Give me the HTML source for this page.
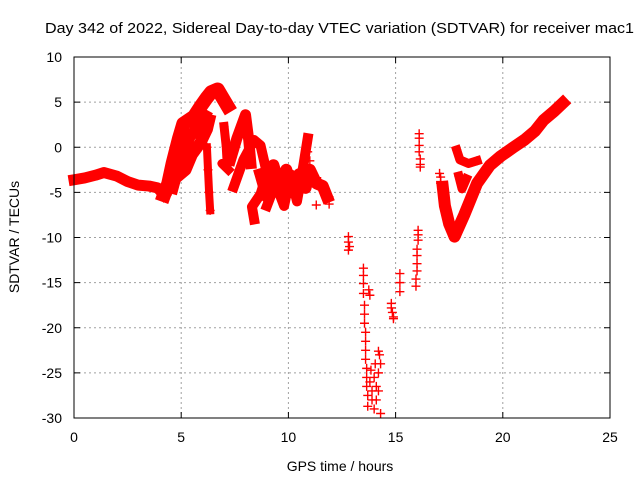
<!DOCTYPE html>
<html><head><meta charset="utf-8"><style>
body{margin:0;background:#fff}
svg{display:block;font-family:"Liberation Sans",sans-serif}
</style></head><body>
<svg id="c" width="640" height="480">
<text x="45" y="33" font-size="15" textLength="589" lengthAdjust="spacingAndGlyphs">Day 342 of 2022, Sidereal Day-to-day VTEC variation (SDTVAR) for receiver mac1</text>
<text x="340" y="471" font-size="14" text-anchor="middle">GPS time / hours</text>
<text transform="translate(19,237) rotate(-90)" font-size="14" text-anchor="middle">SDTVAR / TECUs</text>
<g id="grid"></g><g id="marks"></g>
<rect x="74" y="57" width="536" height="361" fill="none" stroke="#000" stroke-width="1"/>
<g id="ticks"></g>
</svg>
<script>
const xTicks=[0,5,10,15,20,25];
const yTicks=[10,5,0,-5,-10,-15,-20,-25,-30];
// continuous bands: [hour, value]
const bandBase=[[0,-3.6],[0.5,-3.4],[1,-3.1],[1.4,-2.8],[2,-3.2],[2.5,-3.8],[3,-4.2],[3.5,-4.3],[3.9,-4.5],[4.2,-5.3]];
const bandRise=[[4.2,-5.3],[4.4,-4],[4.6,-1.8],[4.9,1],[5.1,2.6],[5.6,3.4],[5.9,4.5],[6.2,5.5],[6.4,6.1],[6.7,6.4],[7.0,5.2],[7.15,4.6]];
const bandRise2=[[4.3,-5],[4.7,-3.5],[5.2,-2.5],[5.5,-0.8],[5.9,0.5],[6.2,2],[6.3,3]];
const bandRise3=[[4.6,-4.5],[5.0,-1],[5.4,1.2],[5.8,2.2],[6.1,3.5]];
const bandDrop=[[6.2,0],[6.25,-2.5],[6.3,-5],[6.35,-7]];
const bandDrop2=[[7.0,2.3],[7.1,0.1],[7.15,-2],[6.9,-1.8],[7.2,-2.5]];
const bandHump=[[7.3,-1.4],[7.6,1],[8.0,3.6],[8.15,0.8],[8.25,-1.8]];
const bandLoop=[[7.45,-4.4],[7.9,-1.4],[8.4,0.8],[8.7,0.2],[9.0,-2.9],[8.7,-5.2],[8.3,-6.6],[8.4,-8]];
const bandMess=[[8.7,-3],[9.0,-5.5],[9.3,-2],[9.6,-4.5],[9.9,-2.5],[10.2,-5],[10.5,-3],[10.8,-4.5],[11.0,-2.5],[11.3,-4],[11.6,-4.3],[11.8,-5.5]];
const bandMess2=[[9.0,-6.5],[9.4,-4],[9.8,-6.5],[10.1,-3],[10.4,-6],[10.7,-2],[10.9,1.0]];
const bandSe1=[[17.2,-4.4],[17.3,-6.5],[17.5,-8.5],[17.75,-9.9],[18.2,-7.5],[18.8,-4],[19.4,-2],[19.9,-1],[20.5,0],[21.0,0.8],[21.5,1.8],[21.9,3],[22.4,4],[22.8,4.9]];
const bandSe2=[[17.85,-0.3],[18.0,-1.4],[18.4,-1.8],[18.8,-1.5]];
const bandSe3=[[17.95,-3.2],[18.1,-4.6],[18.3,-3.5]];
// isolated markers
const scatter=[[11.5,-3.8],[11.9,-6.3],[11.9,-5.5],[11.3,-6.4],[10.9,-0.5],[11.0,-1.5],
[12.8,-9.9],[12.8,-10.5],[12.85,-11.0],[12.8,-11.4],
[13.5,-13.4],[13.5,-14.2],[13.5,-15.1],[13.5,-16.2],[13.55,-17.5],[13.55,-18.5],[13.55,-19.5],[13.6,-20.5],[13.6,-21.5],[13.6,-22.5],[13.6,-23.5],[13.65,-24.5],[13.65,-25.5],[13.65,-26.5],[13.7,-27.5],[13.7,-28.7],[13.75,-15.8],[13.8,-16.4],
[13.8,-26],[13.9,-27],[14.0,-25.5],[14.1,-26.5],[13.9,-28],[14.1,-28],[14.2,-27],[14.2,-25],[14.3,-24],[14.25,-23],[14.2,-22.6],[14.3,-29.5],[14.0,-29],[13.85,-24.7],[14.05,-24],
[14.8,-17.3],[14.8,-17.8],[14.85,-18.3],[14.9,-18.8],[14.9,-19],
[15.2,-14],[15.2,-15],[15.2,-16],
[16.05,-9.2],[16.05,-9.7],[16.05,-10.3],[16.0,-11.3],[16.0,-12.0],[16.0,-12.9],[16.0,-13.7],[15.95,-14.6],[15.95,-15.4],
[16.1,1.5],[16.1,1.0],[16.1,0.2],[16.1,-0.5],[16.15,-1.3],[16.15,-1.9],[16.15,-2.2],
[17.05,-2.9],[17.1,-3.3],[17.1,-3.8],[17.1,-4.0]];
const X=h=>74+h*536/25, Y=v=>57+(10-v)*361/40;
const ns='http://www.w3.org/2000/svg';
const grid=document.getElementById('grid'),marks=document.getElementById('marks'),ticks=document.getElementById('ticks');
function mk(t,a,p){const e=document.createElementNS(ns,t);for(const k in a)e.setAttribute(k,a[k]);p.appendChild(e);return e;}
xTicks.forEach(t=>{
 if(t>0&&t<25){const g=mk('line',{x1:X(t),x2:X(t),y1:57,y2:418,stroke:'#a0a0a0','stroke-dasharray':'2,3'},grid);
 
 }
 mk('line',{x1:X(t),x2:X(t),y1:418,y2:412,stroke:'#000'},ticks);mk('line',{x1:X(t),x2:X(t),y1:57,y2:63,stroke:'#000'},ticks);
 const l=mk('text',{x:X(t),y:442,'font-size':14,'text-anchor':'middle'},ticks);l.textContent=t;
 
 
});
yTicks.forEach(t=>{
 if(t<10&&t>-30){const g=mk('line',{x1:74,x2:610,y1:Y(t),y2:Y(t),stroke:'#a0a0a0','stroke-dasharray':'2,3'},grid);
 
 }
 mk('line',{x1:74,x2:80,y1:Y(t),y2:Y(t),stroke:'#000'},ticks);mk('line',{x1:610,x2:604,y1:Y(t),y2:Y(t),stroke:'#000'},ticks);
 const l=mk('text',{x:62,y:Y(t)+5,'font-size':14,'text-anchor':'end'},ticks);l.textContent=t;
 
 
});
function plus(h,v){const p=mk('path',{d:`M${X(h)-4.5},${Y(v)}h9M${X(h)},${Y(v)-4.5}v9`,stroke:'#f00','stroke-width':1.4,fill:'none'},marks);
 
 }
function band(arr,w){const l=mk('polyline',{points:arr.map(p=>X(p[0])+','+Y(p[1])).join(' '),stroke:'#f00','stroke-width':w,fill:'none','stroke-linejoin':'round','stroke-linecap':'square'},marks);
 
 
 arr.forEach(p=>plus(p[0],p[1]));}
band(bandBase,11);band(bandRise,14);band(bandRise2,12);band(bandRise3,12);band(bandDrop,8);band(bandDrop2,9);band(bandHump,11);band(bandLoop,10);band(bandMess,12);band(bandMess2,10);
band(bandSe1,12);band(bandSe2,9);band(bandSe3,9);
scatter.forEach(p=>plus(p[0],p[1]));
</script>
</body></html>
